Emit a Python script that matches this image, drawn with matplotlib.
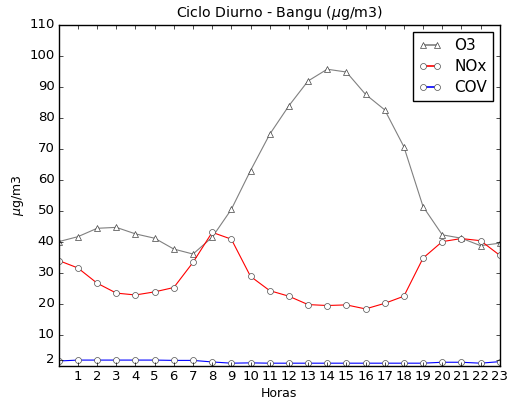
import numpy as np
import matplotlib
matplotlib.use("Agg")
import matplotlib.pyplot as plt

# hourly means
horas = list(range(24))
o3 = [40.1, 41.7, 44.4, 44.7, 42.6, 41.2, 37.7, 36.1, 41.5, 50.5, 63.0, 74.7,
      83.9, 91.9, 95.7, 94.8, 87.6, 82.6, 70.7, 51.4, 42.3, 41.2, 38.8, 39.6]
nox = [34.0, 31.6, 26.7, 23.5, 22.9, 23.9, 25.3, 33.4, 43.1, 40.9, 28.9, 24.3,
       22.5, 19.8, 19.5, 19.7, 18.4, 20.2, 22.5, 34.8, 40.1, 41.1, 40.4, 35.7]
cov = [1.6, 1.9, 1.9, 1.9, 1.9, 1.9, 1.8, 1.8, 1.3, 0.9, 1.0, 0.9,
       0.9, 0.9, 0.9, 0.9, 0.9, 0.9, 0.9, 0.9, 1.2, 1.2, 0.9, 1.4]
xticks = list(range(1, 24))
yticks = [2, 10, 20, 30, 40, 50, 60, 70, 80, 90, 100, 110]

plt.style.use('classic')
plt.rcParams['font.family'] = ['DejaVu Sans']
plt.rcParams['mathtext.fontset'] = 'dejavusans'

fig = plt.figure(figsize=(5.11, 4.08), dpi=100, facecolor='white')
ax = fig.add_axes([0.115, 0.103, 0.863, 0.836])

ms = 4.3
ax.plot(horas, o3, color='gray', lw=0.8, marker='^', ms=ms, mfc='white',
        mec='0.25', mew=0.5, label='O3')
ax.plot(horas, nox, color='red', lw=0.8, marker='o', ms=ms, mfc='white',
        mec='0.3', mew=0.5, label='NOx')
ax.plot(horas, cov, color='blue', lw=0.8, marker='o', ms=ms, mfc='white',
        mec='0.3', mew=0.5, label='COV')

ax.set_xlim(0, 23)
ax.set_ylim(0, 110)
ax.set_xticks(xticks)
ax.set_yticks(yticks)
ax.tick_params(labelsize=9.5, direction='in', length=3, pad=3, top=True, right=True)
ax.set_title(r'Ciclo Diurno - Bangu ($\mu$g/m3)', fontsize=10.2, pad=6)
ax.set_xlabel('Horas', fontsize=9, labelpad=3)
ax.set_ylabel(r'$\mu$g/m3', fontsize=9, labelpad=2)

leg = ax.legend(loc='upper right', fontsize=11, numpoints=2, borderaxespad=0.45,
                handlelength=1.5, handletextpad=0.8, labelspacing=0.4,
                fancybox=False)
leg.get_frame().set_edgecolor('black')
for h in leg.get_lines():
    h.set_linewidth(1.2)

fig.savefig('out.png', dpi=100, facecolor='white')
